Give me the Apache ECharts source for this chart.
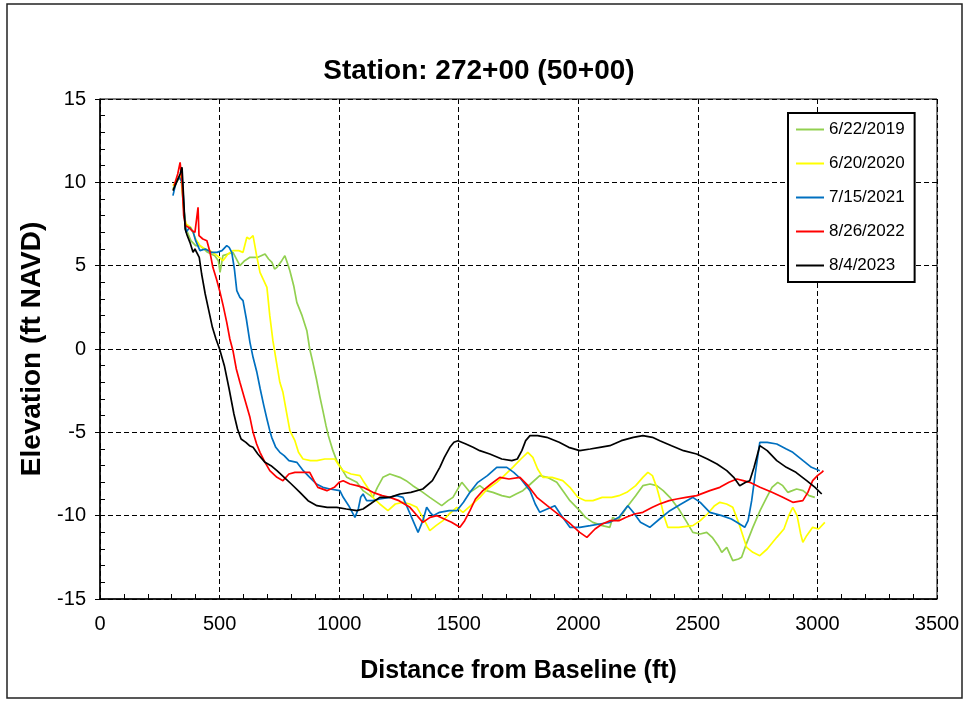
<!DOCTYPE html>
<html>
<head>
<meta charset="utf-8">
<script src="https://cdn.jsdelivr.net/npm/echarts@6/dist/echarts.min.js"></script>
<style>
  html, body { margin: 0; padding: 0; background: #fff; }
  #chart { width: 969px; height: 704px; }
</style>
</head>
<body>
<div id="chart"></div>
<script>
// survey profiles, [distance ft, elevation ft NAVD]
const names = ['6/22/2019', '6/20/2020', '7/15/2021', '8/26/2022', '8/4/2023']
const colors = ['#92D050', '#FFFF00', '#0070C0', '#FF0000', '#000000']

const p2019 = [[305,9.6],[320,10.0],[338,10.4],[350,8.5],[360,7.2],[380,6.5],[400,6.2],[418,6.2],[450,5.8],[480,5.6],[495,5.3],[502,4.6],[514,5.6],[535,5.7],[556,5.8],[585,5.0],[605,5.3],[627,5.5],[660,5.5],[690,5.7],[705,5.4],[719,5.2],[730,4.8],[740,4.9],[760,5.3],[773,5.6],[785,5.1],[794,4.7],[810,3.8],[823,2.8],[845,2.0],[865,1.1],[877,0.0],[890,-0.8],[905,-1.8],[920,-2.9],[932,-3.7],[945,-4.6],[955,-5.2],[974,-6.1],[990,-6.7],[1015,-7.3],[1032,-7.7],[1074,-8.0],[1100,-8.5],[1141,-8.9],[1160,-8.3],[1183,-7.7],[1212,-7.5],[1254,-7.7],[1280,-7.9],[1308,-8.2],[1340,-8.5],[1379,-8.9],[1429,-9.4],[1455,-9.1],[1476,-8.9],[1500,-8.3],[1513,-8.0],[1530,-8.3],[1547,-8.6],[1588,-8.2],[1615,-8.5],[1643,-8.6],[1680,-8.8],[1714,-8.9],[1740,-8.7],[1768,-8.5],[1800,-8.1],[1839,-7.6],[1870,-7.7],[1910,-8.0],[1940,-8.6],[1965,-9.1],[2006,-9.7],[2030,-10.1],[2061,-10.4],[2100,-10.6],[2132,-10.7],[2144,-10.1],[2165,-10.3],[2203,-9.5],[2240,-8.8],[2270,-8.2],[2300,-8.1],[2328,-8.2],[2355,-8.5],[2383,-8.9],[2420,-9.6],[2450,-10.3],[2479,-11.0],[2510,-11.1],[2537,-11.0],[2560,-11.3],[2585,-11.8],[2600,-12.2],[2621,-11.9],[2646,-12.7],[2670,-12.6],[2683,-12.5],[2700,-11.8],[2730,-10.7],[2760,-9.7],[2788,-8.9],[2810,-8.3],[2834,-8.0],[2855,-8.2],[2876,-8.6],[2895,-8.5],[2913,-8.4],[2940,-8.5],[2965,-8.8],[2989,-8.9]]

const p2020 = [[305,9.8],[325,10.2],[340,10.5],[352,8.0],[360,7.5],[380,7.3],[400,6.6],[418,6.2],[440,6.0],[460,5.9],[490,5.6],[514,5.3],[535,5.7],[556,5.9],[580,5.9],[598,5.8],[614,6.7],[625,6.6],[640,6.8],[655,5.6],[669,4.6],[685,4.1],[698,3.7],[710,2.0],[723,0.5],[738,-0.8],[752,-2.0],[765,-2.6],[780,-3.8],[794,-4.9],[815,-5.5],[830,-6.2],[849,-6.6],[880,-6.7],[907,-6.7],[940,-6.6],[982,-6.6],[1000,-7.0],[1017,-7.3],[1050,-7.5],[1087,-7.6],[1100,-7.9],[1128,-8.5],[1141,-8.9],[1170,-9.3],[1204,-9.7],[1235,-9.3],[1267,-9.2],[1295,-9.3],[1325,-9.5],[1350,-10.1],[1379,-10.9],[1405,-10.6],[1434,-10.3],[1460,-9.9],[1492,-9.5],[1518,-9.8],[1550,-9.4],[1588,-8.9],[1620,-8.4],[1659,-8.0],[1690,-7.6],[1726,-7.1],[1760,-6.6],[1789,-6.2],[1810,-6.5],[1830,-7.2],[1852,-7.7],[1890,-7.7],[1935,-7.9],[1965,-8.3],[1998,-8.9],[2030,-9.1],[2061,-9.1],[2100,-8.9],[2140,-8.9],[2170,-8.8],[2203,-8.6],[2240,-8.2],[2270,-7.7],[2291,-7.4],[2310,-7.6],[2328,-8.3],[2345,-9.2],[2360,-10.1],[2374,-10.7],[2420,-10.7],[2479,-10.6],[2510,-10.3],[2540,-9.9],[2570,-9.4],[2592,-9.2],[2620,-9.3],[2646,-9.5],[2670,-10.4],[2704,-11.9],[2730,-12.2],[2759,-12.4],[2790,-12.0],[2830,-11.3],[2860,-10.8],[2880,-10.0],[2897,-9.5],[2915,-10.0],[2930,-11.1],[2939,-11.6],[2955,-11.2],[2980,-10.7],[3005,-10.8],[3031,-10.4]]

const p2021 = [[305,9.2],[318,10.0],[330,10.3],[345,10.0],[352,8.2],[360,7.0],[375,7.3],[390,7.0],[400,6.5],[418,5.9],[440,6.0],[465,5.8],[489,5.8],[510,5.9],[530,6.2],[540,6.1],[551,5.8],[562,4.8],[572,3.5],[585,3.1],[598,2.9],[612,1.8],[627,0.4],[640,-0.5],[656,-1.4],[670,-2.4],[685,-3.4],[698,-4.2],[710,-4.9],[718,-5.3],[735,-5.9],[752,-6.2],[770,-6.4],[790,-6.7],[823,-6.8],[850,-7.3],[877,-7.7],[905,-8.1],[932,-8.3],[961,-8.4],[1003,-8.5],[1017,-8.9],[1040,-9.4],[1066,-10.1],[1080,-9.6],[1090,-8.9],[1100,-8.7],[1115,-9.1],[1128,-9.1],[1141,-9.1],[1170,-9.0],[1210,-8.9],[1240,-8.8],[1267,-8.9],[1285,-9.5],[1303,-10.1],[1330,-11.0],[1350,-10.3],[1366,-9.5],[1380,-9.8],[1393,-10.0],[1420,-9.8],[1460,-9.7],[1492,-9.7],[1520,-9.2],[1547,-8.6],[1580,-8.0],[1620,-7.6],[1659,-7.1],[1701,-7.1],[1730,-7.4],[1760,-7.8],[1798,-8.5],[1820,-9.3],[1839,-9.8],[1870,-9.6],[1902,-9.4],[1930,-10.0],[1965,-10.7],[2006,-10.7],[2050,-10.6],[2090,-10.5],[2132,-10.4],[2170,-10.1],[2207,-9.4],[2230,-9.8],[2260,-10.4],[2299,-10.7],[2340,-10.2],[2383,-9.7],[2430,-9.3],[2479,-8.9],[2510,-9.2],[2550,-9.8],[2600,-10.0],[2640,-10.2],[2663,-10.4],[2696,-10.7],[2710,-10.3],[2725,-9.1],[2740,-7.5],[2759,-5.6],[2790,-5.6],[2830,-5.7],[2870,-6.0],[2897,-6.2],[2940,-6.7],[2975,-7.1],[3010,-7.3]]

const p2022 = [[310,9.8],[325,10.5],[335,11.2],[343,10.0],[350,8.0],[358,7.4],[370,7.3],[385,7.1],[397,7.0],[405,7.0],[410,8.5],[414,6.8],[430,6.6],[447,6.5],[460,5.8],[472,4.9],[487,4.2],[502,3.4],[515,2.6],[530,1.6],[543,0.6],[556,-0.1],[570,-1.2],[585,-2.0],[605,-3.0],[627,-4.1],[640,-5.0],[655,-5.7],[669,-6.2],[690,-6.8],[710,-7.3],[740,-7.7],[765,-7.9],[790,-7.5],[815,-7.4],[850,-7.4],[877,-7.4],[895,-7.9],[911,-8.3],[949,-8.5],[980,-8.3],[1000,-8.0],[1017,-7.9],[1045,-8.1],[1074,-8.2],[1100,-8.3],[1141,-8.6],[1180,-8.8],[1212,-8.9],[1250,-9.1],[1296,-9.5],[1320,-9.9],[1350,-10.4],[1380,-10.1],[1409,-10.0],[1440,-10.2],[1470,-10.4],[1505,-10.7],[1525,-10.3],[1547,-9.7],[1570,-9.0],[1601,-8.5],[1635,-8.1],[1672,-7.7],[1710,-7.8],[1756,-7.7],[1790,-8.2],[1827,-8.9],[1870,-9.4],[1923,-10.0],[1960,-10.4],[2006,-11.0],[2036,-11.3],[2070,-10.8],[2100,-10.5],[2132,-10.3],[2170,-10.3],[2200,-10.1],[2235,-9.9],[2270,-9.8],[2310,-9.5],[2340,-9.3],[2380,-9.1],[2412,-9.0],[2450,-8.9],[2495,-8.8],[2550,-8.5],[2592,-8.3],[2630,-8.0],[2663,-7.8],[2690,-7.9],[2717,-8.0],[2760,-8.3],[2810,-8.6],[2855,-8.9],[2897,-9.2],[2939,-9.1],[2960,-8.6],[2980,-7.9],[3000,-7.6],[3018,-7.4],[3025,-7.3]]

const p2023 = [[305,9.5],[320,10.0],[335,10.5],[343,10.9],[350,9.0],[356,7.2],[365,6.8],[376,6.4],[389,5.8],[397,6.0],[405,6.0],[415,5.5],[425,4.5],[440,3.3],[455,2.3],[470,1.3],[485,0.6],[500,0.0],[520,-1.0],[540,-2.4],[560,-3.9],[575,-4.8],[590,-5.4],[610,-5.6],[625,-5.8],[640,-5.9],[660,-6.3],[690,-6.8],[715,-7.0],[740,-7.3],[770,-7.7],[800,-8.1],[836,-8.6],[870,-9.1],[907,-9.4],[950,-9.5],[990,-9.5],[1030,-9.6],[1074,-9.7],[1100,-9.6],[1130,-9.3],[1170,-8.9],[1212,-8.9],[1254,-8.7],[1300,-8.6],[1350,-8.4],[1390,-7.9],[1421,-7.1],[1440,-6.5],[1463,-5.9],[1480,-5.6],[1497,-5.5],[1530,-5.7],[1560,-5.9],[1588,-6.1],[1630,-6.3],[1680,-6.6],[1722,-6.7],[1745,-6.6],[1764,-6.1],[1780,-5.5],[1798,-5.2],[1830,-5.2],[1868,-5.3],[1920,-5.6],[1960,-5.9],[2006,-6.1],[2050,-6.0],[2090,-5.9],[2132,-5.8],[2180,-5.5],[2230,-5.3],[2270,-5.2],[2310,-5.3],[2341,-5.5],[2390,-5.8],[2440,-6.1],[2495,-6.3],[2540,-6.6],[2580,-6.9],[2621,-7.3],[2650,-7.7],[2675,-8.2],[2700,-8.0],[2717,-7.9],[2735,-7.1],[2759,-5.8],[2790,-6.1],[2830,-6.7],[2870,-7.1],[2910,-7.4],[2955,-7.9],[2990,-8.3],[3018,-8.7]]

const profiles = [p2019, p2020, p2021, p2022, p2023]

const font = 'Liberation Sans, Arial, sans-serif'
const dash = { color: '#000', width: 1, type: [5, 3] }
const plain = v => String(v)

const chart = echarts.init(document.getElementById('chart'))

// axis used only for the small inner ticks (Excel style minor ticks)
const minorAxis = {
	axisLine: { show: false, onZero: false },
	axisLabel: { show: false },
	splitLine: { show: false },
	axisTick: { show: false, inside: true },
	minorTick: { show: true, splitNumber: 5, length: 5, lineStyle: { color: '#000', width: 1 } }
}

chart.setOption({
	animation: false,
	backgroundColor: '#fff',
	textStyle: { fontFamily: font },
	title: {
		text: 'Station: 272+00 (50+00)',
		left: 474,
		textAlign: 'center',
		top: 52,
		textStyle: { fontSize: 28, fontWeight: 'bold', color: '#000', fontFamily: font }
	},
	graphic: [{
		type: 'rect',
		shape: { x: 7, y: 4, width: 955, height: 694 },
		style: { fill: 'none', stroke: '#222', lineWidth: 1.5 },
		silent: true
	}],
	legend: {
		orient: 'vertical',
		left: 788,
		top: 113,
		padding: [8, 10, 8, 8],
		itemGap: 17,
		itemWidth: 28,
		itemHeight: 2,
		icon: 'rect',
		borderColor: '#000',
		borderWidth: 2,
		backgroundColor: '#fff',
		textStyle: { fontSize: 17, color: '#000', fontFamily: font },
		data: names
	},
	grid: {
		left: 100, top: 99, right: 32, bottom: 105,
		show: true, borderColor: '#000', borderWidth: 1, backgroundColor: 'transparent'
	},
	xAxis: [{
		type: 'value',
		min: 0, max: 3500, interval: 500,
		name: 'Distance from Baseline (ft)',
		nameLocation: 'middle',
		nameGap: 60,
		nameTextStyle: { fontSize: 25, fontWeight: 'bold', color: '#000', fontFamily: font },
		axisLine: { show: true, onZero: false, lineStyle: { color: '#000', width: 1.5 } },
		axisTick: { show: false },
		axisLabel: { fontSize: 20, color: '#000', margin: 15, fontFamily: font, formatter: plain },
		splitLine: { show: true, lineStyle: dash }
	}, Object.assign({ type: 'value', min: 0, max: 3500, interval: 500, position: 'bottom' }, minorAxis)],
	yAxis: [{
		type: 'value',
		min: -15, max: 15, interval: 5,
		name: 'Elevation (ft NAVD)',
		nameLocation: 'middle',
		nameGap: 54,
		nameTextStyle: { fontSize: 28, fontWeight: 'bold', color: '#000', fontFamily: font },
		axisLine: { show: true, onZero: false, lineStyle: { color: '#000', width: 1.5 } },
		axisTick: { show: true, inside: false, length: 5, lineStyle: { color: '#000' } },
		axisLabel: { fontSize: 20, color: '#000', margin: 14, fontFamily: font, formatter: plain },
		splitLine: { show: true, lineStyle: dash }
	}, Object.assign({ type: 'value', min: -15, max: 15, interval: 5, position: 'left' }, minorAxis)],
	series: profiles.map((data, i) => ({
		name: names[i],
		type: 'line',
		data: data,
		xAxisIndex: 0,
		yAxisIndex: 0,
		symbol: 'none',
		color: colors[i],
		lineStyle: { color: colors[i], width: 1.7 },
		z: 2 + i
	}))
})
</script>
</body>
</html>
